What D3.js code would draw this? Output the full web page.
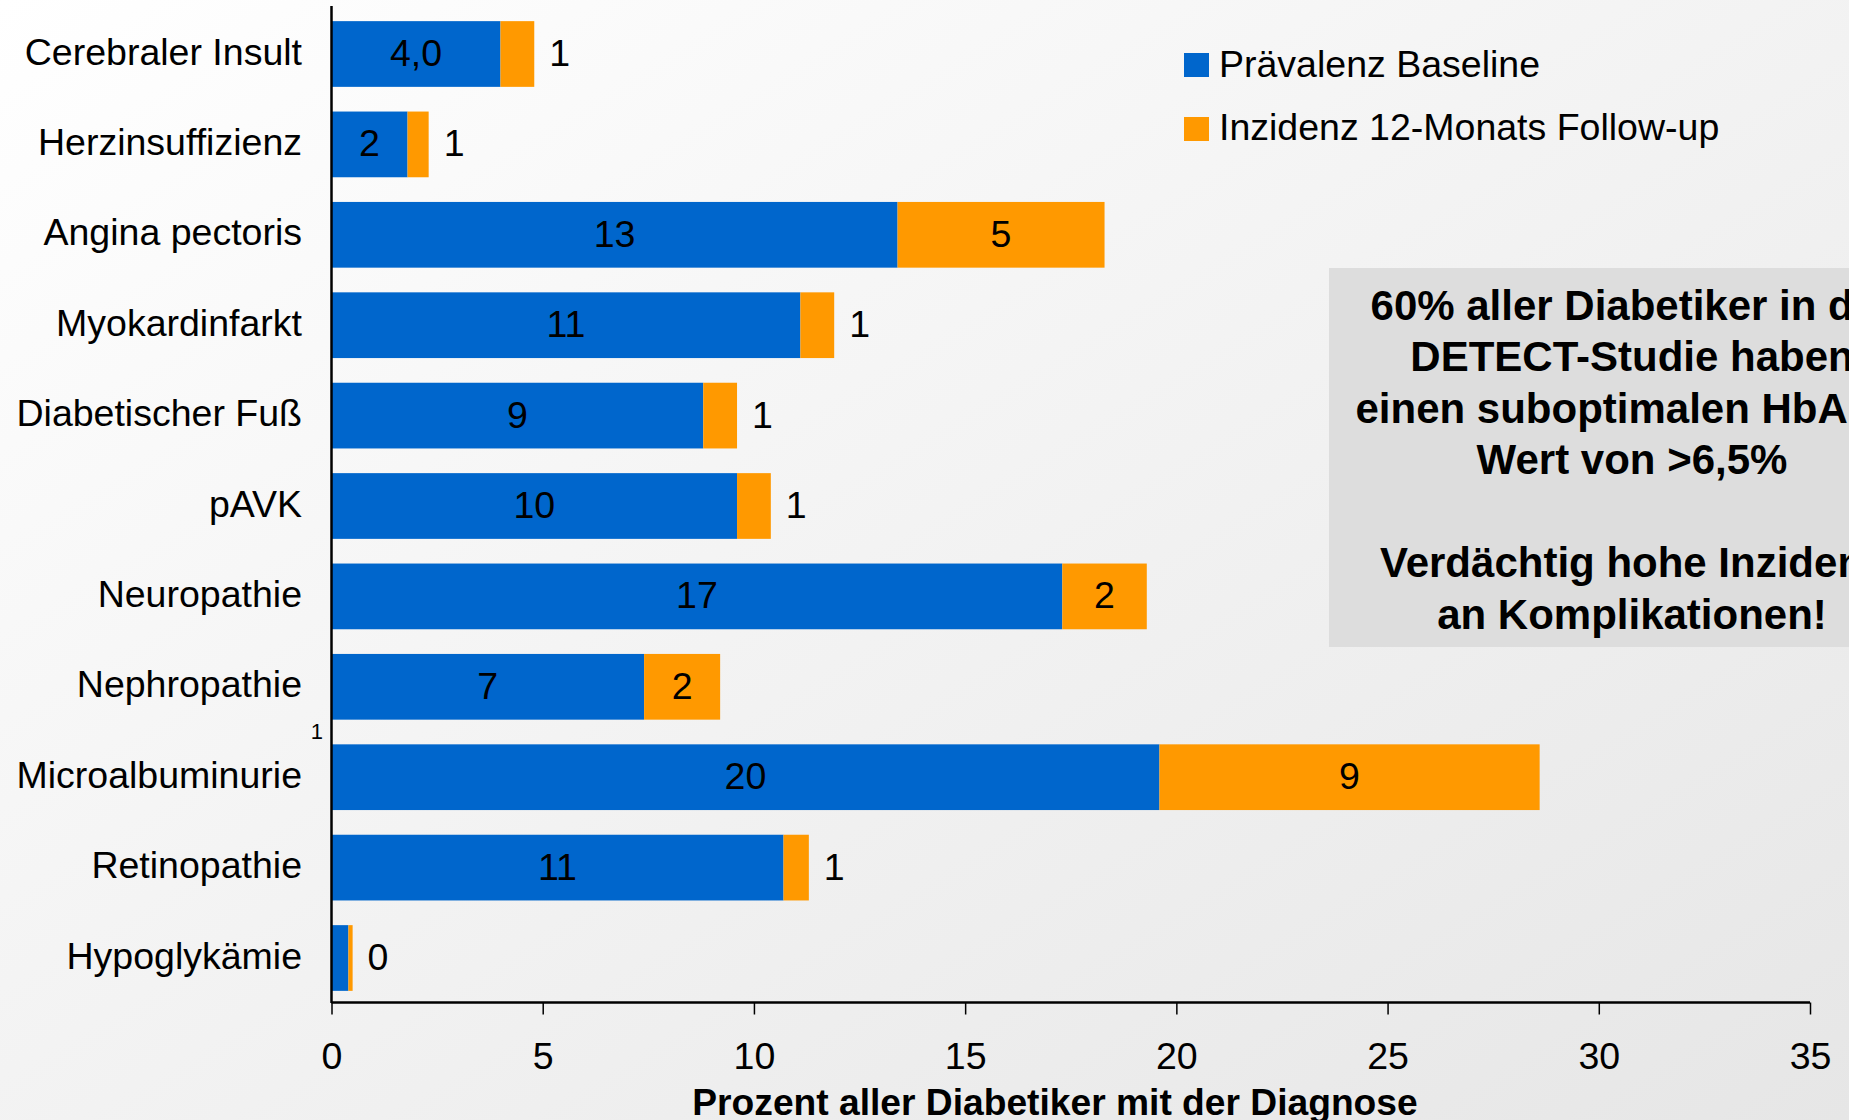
<!DOCTYPE html>
<html>
<head>
<meta charset="utf-8">
<script src="https://cdn.jsdelivr.net/npm/d3@7"></script>
<style>
  html, body { margin: 0; padding: 0; overflow: hidden; }
  svg { display: block; }
  text { font-family: "Liberation Sans", Arial, sans-serif; fill: #000; }
</style>
</head>
<body>
<svg id="chart" width="1849" height="1120"></svg>
<script>
const categories = ["Cerebraler Insult", "Herzinsuffizienz", "Angina pectoris", "Myokardinfarkt",
  "Diabetischer Fuß", "pAVK", "Neuropathie", "Nephropathie", "Microalbuminurie", "Retinopathie", "Hypoglykämie"];
const prevalence = [4.0, 1.8, 13.4, 11.1, 8.8, 9.6, 17.3, 7.4, 19.6, 10.7, 0.4];
const incidence  = [0.8, 0.5, 4.9, 0.8, 0.8, 0.8, 2.0, 1.8, 9.0, 0.6, 0.1];
const prevalenceLabels = ["4,0", "2", "13", "11", "9", "10", "17", "7", "20", "11", ""];
const incidenceLabels  = ["1", "1", "5", "1", "1", "1", "2", "2", "9", "1", "0"];
const xTicks = [0, 5, 10, 15, 20, 25, 30, 35];
const seriesNames = ["Prävalenz Baseline", "Inzidenz 12-Monats Follow-up"];
const seriesColors = ["#0066CC", "#FF9900"];
const boxLines = ["60% aller Diabetiker in der", "DETECT-Studie haben", "einen suboptimalen HbA1c-",
  "Wert von >6,5%", "", "Verdächtig hohe Inzidenz", "an Komplikationen!"];
const xTitle = "Prozent aller Diabetiker mit der Diagnose";

const svg = d3.select("#chart");

// background gradient
const defs = svg.append("defs");
const grad = defs.append("linearGradient").attr("id", "bg")
  .attr("x1", "0%").attr("y1", "0%").attr("x2", "100%").attr("y2", "100%");
grad.append("stop").attr("offset", "0%").attr("stop-color", "#ffffff");
grad.append("stop").attr("offset", "100%").attr("stop-color", "#e6e6e6");
svg.append("rect").attr("width", 1849).attr("height", 1120).attr("fill", "url(#bg)");

const x = d3.scaleLinear().domain([0, 35]).range([331.5, 1810]);
const y = d3.scaleBand().domain(categories).range([8.8, 1003.2]).paddingInner(0.273).paddingOuter(0.1365);

const rows = categories.map((c, i) => ({ c, p: prevalence[i], inc: incidence[i], pl: prevalenceLabels[i], il: incidenceLabels[i] }));

// bars
const g = svg.append("g");
g.selectAll("rect.prev").data(rows).join("rect")
  .attr("x", x(0)).attr("y", d => y(d.c))
  .attr("width", d => x(d.p) - x(0)).attr("height", y.bandwidth())
  .attr("fill", seriesColors[0]);
g.selectAll("rect.inc").data(rows).join("rect")
  .attr("x", d => x(d.p)).attr("y", d => y(d.c))
  .attr("width", d => x(d.p + d.inc) - x(d.p)).attr("height", y.bandwidth())
  .attr("fill", seriesColors[1]);

// value labels
const fs = 37.5;
g.selectAll("text.pl").data(rows).join("text")
  .attr("x", d => (x(0) + x(d.p)) / 2)
  .attr("y", d => y(d.c) + y.bandwidth() / 2 + 12)
  .attr("text-anchor", "middle").attr("font-size", fs)
  .text(d => d.pl);
g.selectAll("text.il").data(rows).join("text")
  .attr("x", d => d.inc >= 1.5 ? (x(d.p) + x(d.p + d.inc)) / 2 : x(d.p + d.inc) + 15)
  .attr("y", d => y(d.c) + y.bandwidth() / 2 + 12)
  .attr("text-anchor", d => d.inc >= 1.5 ? "middle" : "start").attr("font-size", fs)
  .text(d => d.il);

// category labels
svg.append("g").selectAll("text").data(categories).join("text")
  .attr("x", 302).attr("y", d => y(d) + y.bandwidth() / 2 + 10.5)
  .attr("text-anchor", "end").attr("font-size", fs).text(d => d);

// stray small label
svg.append("text").attr("x", 323).attr("y", 739).attr("text-anchor", "end")
  .attr("font-size", 22).text("1");

// axes
const xAxis = svg.append("g").attr("transform", "translate(0,1002.5)")
  .call(d3.axisBottom(x).tickValues(xTicks).tickSize(12).tickPadding(0).tickFormat(d3.format("d")));
xAxis.select(".domain").attr("stroke", "#000").attr("stroke-width", 2.5).attr("d", `M${x(0)},0H${x(35)}`);
xAxis.selectAll(".tick line").attr("stroke", "#000").attr("stroke-width", 1.5);
xAxis.selectAll(".tick text").attr("font-size", fs).attr("dy", null).attr("y", 66)
  .attr("font-family", "'Liberation Sans', Arial, sans-serif").attr("fill", "#000");

svg.append("line").attr("x1", x(0)).attr("x2", x(0)).attr("y1", 6).attr("y2", 1003)
  .attr("stroke", "#000").attr("stroke-width", 2.5);

svg.append("text").attr("x", 1055).attr("y", 1115).attr("text-anchor", "middle")
  .attr("font-size", 37.2).attr("font-weight", "bold").text(xTitle);

// legend
const leg = svg.append("g");
seriesNames.forEach((n, i) => {
  leg.append("rect").attr("x", 1184).attr("y", 53 + i * 64).attr("width", 25).attr("height", 24)
    .attr("fill", seriesColors[i]);
  leg.append("text").attr("x", 1219).attr("y", 77 + i * 63).attr("font-size", fs).text(n);
});

// annotation box
svg.append("rect").attr("x", 1329).attr("y", 268).attr("width", 600).attr("height", 379).attr("fill", "#dddddd");
const bt = svg.append("g");
boxLines.forEach((l, i) => {
  bt.append("text").attr("x", 1632).attr("y", 319.5 + i * 51.5).attr("text-anchor", "middle")
    .attr("font-size", 42).attr("font-weight", "bold").text(l);
});
</script>
</body>
</html>
